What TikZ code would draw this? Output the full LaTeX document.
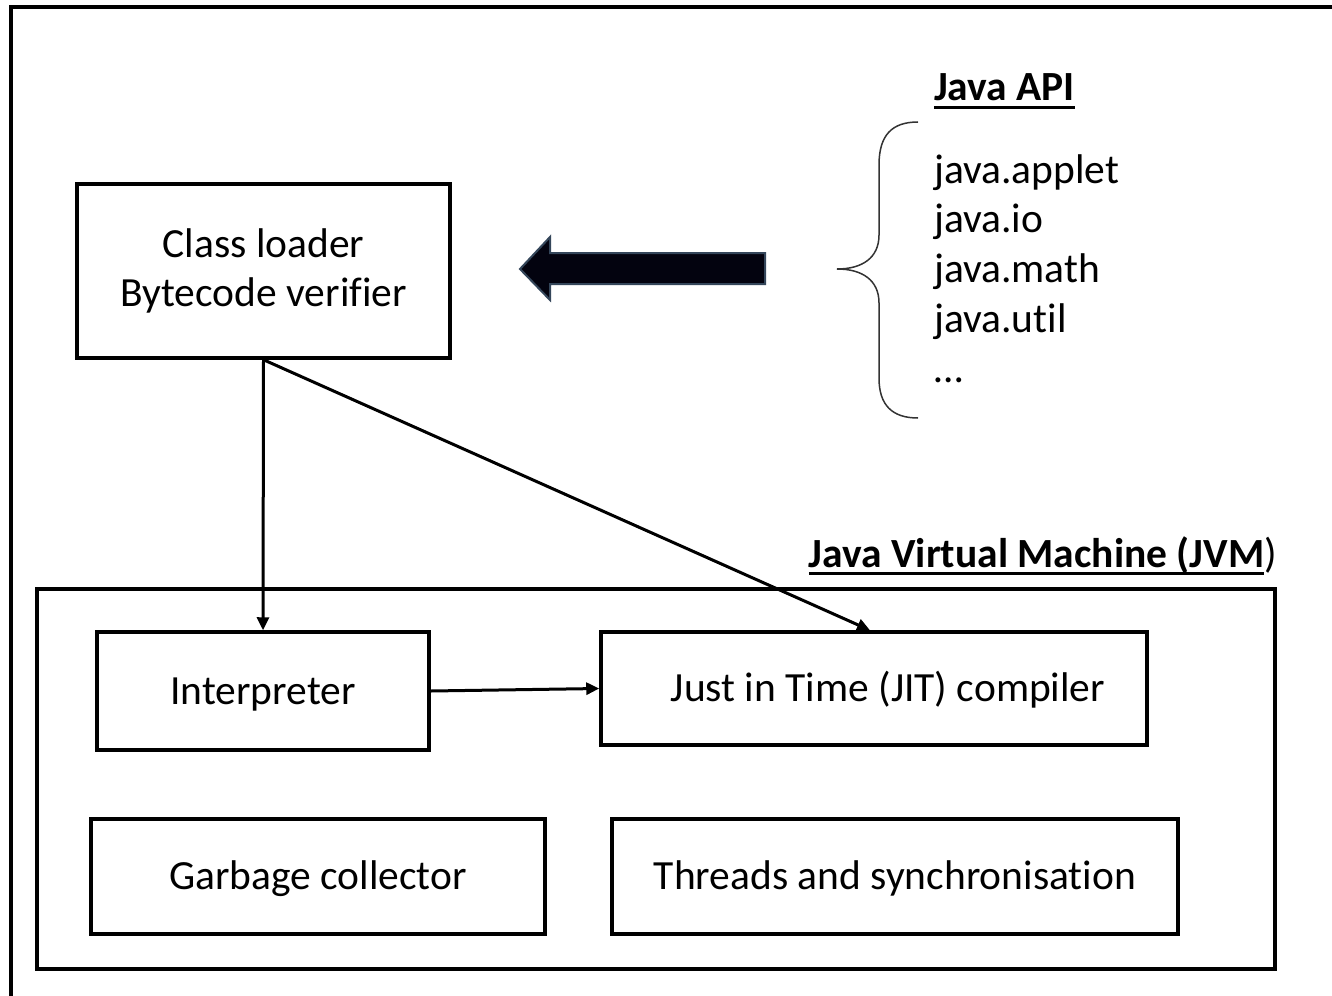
\documentclass[tikz,border=0pt]{standalone}
\usepackage{fontspec}
\setmainfont[Ligatures=NoCommon]{Carlito}
\usetikzlibrary{arrows.meta}
\newcommand{\myul}[1]{\setbox0\hbox{#1}\rlap{\rule[-8pt]{\wd0}{3pt}}\box0}
\definecolor{arrowfill}{HTML}{03030F}
\definecolor{arrowedge}{HTML}{34465A}
\begin{document}
\begin{tikzpicture}[x=1pt,y=-1pt,
  txt/.style={font=\fontsize{41.5}{49}\selectfont},
  box/.style={draw, line width=3.5pt, inner sep=0pt, txt, align=center},
  onebox/.style={box, text height=36pt, text depth=10pt},
  conn/.style={line width=3pt, -{Triangle[length=13pt,width=12pt]}}]
\useasboundingbox (0,0) rectangle (1332,995);
\clip (0,0) rectangle (1332,995);
\fill[white] (0,0) rectangle (1332,995);
\draw[line width=4pt] (11,1010) -- (11,7) -- (1345,7);

\node[box, minimum width=373, minimum height=174] (cl) at (263.5,271) {Class loader\\Bytecode verifier};
\node[box, minimum width=1238, minimum height=380] (jvm) at (656,779) {};
\node[onebox, minimum width=332, minimum height=118] (interp) at (263,691) {Interpreter};
\node[onebox, minimum width=546, minimum height=113] (jit) at (874,688.5) {\hspace*{28pt}Just in Time (JIT) compiler};
\node[onebox, minimum width=454, minimum height=115] (gc) at (318,876.5) {Garbage collector};
\node[onebox, minimum width=566, minimum height=115] (thr) at (895,876.5) {Threads and synchronisation};

\node[txt, anchor=base east, inner sep=0pt] (jvmt) at (1277,567) {\textbf{\myul{Java Virtual Machine (JVM}})};
\node[txt, anchor=base west, inner sep=0pt] (api) at (934,101) {\textbf{\myul{Java API}}};
\node[txt, anchor=base west, inner sep=0pt] (p1) at (934,183) {java.applet};
\node[txt, anchor=base west, inner sep=0pt] (p2) at (934,232) {java.io};
\node[txt, anchor=base west, inner sep=0pt] (p3) at (934,282) {java.math};
\node[txt, anchor=base west, inner sep=0pt] (p4) at (934,332) {java.util};
\node[txt, anchor=base west, inner sep=0pt] (p5) at (934,382) {…};

\draw[conn] (cl.south) -- (interp.north);
\draw[conn] (cl.south) -- ([xshift=-4pt]jit.north);
\draw[conn] (interp.east) -- (jit.west);

\filldraw[fill=arrowfill, draw=arrowedge, line width=2pt, line join=miter]
  (765,253) -- (550,253) -- (550,237) -- (520,269) -- (550,300) -- (550,284) -- (765,284) -- cycle;

\draw[line width=1.5pt, black!80]
  (918,122) .. controls (892,122) and (879,135) .. (879,165) -- (879,235)
  .. controls (879,258) and (862,269) .. (837,269)
  .. controls (862,269) and (879,280) .. (879,303) -- (879,378)
  .. controls (879,405) and (892,418) .. (918,418);
\end{tikzpicture}
\end{document}
